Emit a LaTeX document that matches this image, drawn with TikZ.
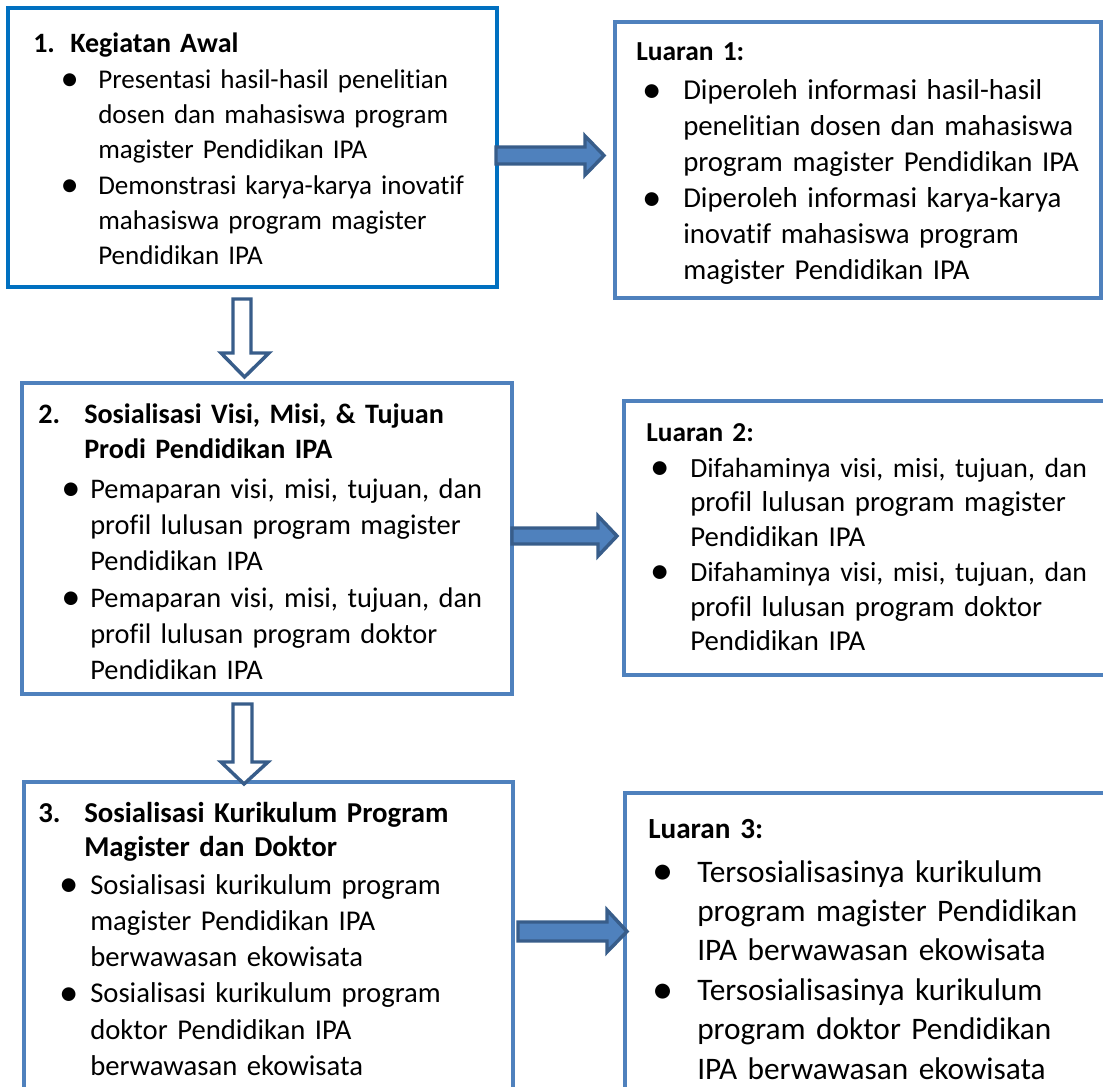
\documentclass[tikz,border=0pt]{standalone}
\usepackage{fontspec}
\setmainfont{Carlito}[Ligatures={NoCommon}]
\usetikzlibrary{fit}
\definecolor{boxblue}{RGB}{0,112,192}
\definecolor{lineblue}{RGB}{79,129,189}
\definecolor{arrfill}{RGB}{79,129,189}
\definecolor{arrdark}{RGB}{56,93,138}
\newcommand{\bl}[1]{\makebox[#1][l]{\raisebox{-0.09em}{\scalebox{1.35}{\textbullet}}}}
\begin{document}
\begin{tikzpicture}[x=0.75pt,y=-0.75pt,
  frame/.style={draw=#1, line width=2.4pt, inner sep=0pt, fill=none},
  txt/.style={anchor=base west, inner sep=0pt, text width=470pt, align=left},
  rarrow/.style={fill=arrfill, draw=arrdark, line width=2.6pt, line join=miter},
  darrow/.style={fill=white, draw=arrdark, line width=2.6pt, line join=miter}]
\useasboundingbox (0,0) rectangle (1103,1087);
\clip (0,0) rectangle (1103,1087);
% boxes
\node[frame=boxblue, fit={(8,8) (497,287)}] (b1) {};
\node[frame=lineblue, fit={(615,22) (1101,298)}] (l1) {};
\node[frame=lineblue, fit={(22,383) (512,694)}] (b2) {};
\node[frame=lineblue, fit={(624,401) (1115,675)}] (l2) {};
\node[frame=lineblue, fit={(24,782) (513,1100)}] (b3) {};
\node[frame=lineblue, fit={(625,793) (1115,1100)}] (l3) {};
% box 1 text
\node[txt, font=\fontsize{20.3}{26.5}\selectfont] (t1) at (33,53) {%
{\bfseries\fontsize{21}{26.5}\selectfont\makebox[27.75pt][l]{1.}Kegiatan Awal}\\
\hspace*{20.5pt}\bl{28.25pt}Presentasi hasil-hasil penelitian\\
\hspace*{48.75pt}dosen dan mahasiswa program\\
\hspace*{48.75pt}magister Pendidikan IPA\\
\hspace*{20.5pt}\bl{28.25pt}Demonstrasi karya-karya inovatif\\
\hspace*{48.75pt}mahasiswa program magister\\
\hspace*{48.75pt}Pendidikan IPA};
% luaran 1
\node[txt, font=\bfseries\fontsize{20.6}{24}\selectfont] (h1) at (636,61) {Luaran 1:};
\node[txt, font=\fontsize{21.6}{27}\selectfont] (u1) at (642,100) {%
\bl{30.75pt}Diperoleh informasi hasil-hasil\\
\hspace*{30.75pt}penelitian dosen dan mahasiswa\\
\hspace*{30.75pt}program magister Pendidikan IPA\\
\bl{30.75pt}Diperoleh informasi karya-karya\\
\hspace*{30.75pt}inovatif mahasiswa program\\
\hspace*{30.75pt}magister Pendidikan IPA};
% box 2
\node[txt, font=\bfseries\fontsize{21.1}{26.25}\selectfont] (h2) at (38,423) {%
\makebox[34.5pt][l]{2.}Sosialisasi Visi, Misi, \& Tujuan\\
\hspace*{34.5pt}Prodi Pendidikan IPA};
\node[txt, font=\fontsize{21.3}{27.3}\selectfont] (t2) at (61,498) {%
\bl{21.75pt}Pemaparan visi, misi, tujuan, dan\\
\hspace*{21.75pt}profil lulusan program magister\\
\hspace*{21.75pt}Pendidikan IPA\\
\bl{21.75pt}Pemaparan visi, misi, tujuan, dan\\
\hspace*{21.75pt}profil lulusan program doktor\\
\hspace*{21.75pt}Pendidikan IPA};
% luaran 2
\node[txt, font=\bfseries\fontsize{20.5}{24}\selectfont] (h2r) at (646,441) {Luaran 2:};
\node[txt, font=\fontsize{21.6}{26.1}\selectfont] (u2) at (650,477) {%
\bl{30pt}{\fontsize{20.8}{26}\selectfont Difahaminya visi, misi, tujuan, dan}\\
\hspace*{30pt}profil lulusan program magister\\
\hspace*{30pt}Pendidikan IPA\\
\bl{30pt}{\fontsize{20.8}{26}\selectfont Difahaminya visi, misi, tujuan, dan}\\
\hspace*{30pt}profil lulusan program doktor\\
\hspace*{30pt}Pendidikan IPA};
% box 3
\node[txt, font=\bfseries\fontsize{21.6}{25.5}\selectfont] (h3) at (38,822) {%
\makebox[34.5pt][l]{3.}Sosialisasi Kurikulum Program\\
\hspace*{34.5pt}Magister dan Doktor};
\node[txt, font=\fontsize{21.5}{27.2}\selectfont] (t3) at (59,894) {%
\bl{23.25pt}Sosialisasi kurikulum program\\
\hspace*{23.25pt}magister Pendidikan IPA\\
\hspace*{23.25pt}berwawasan ekowisata\\
\bl{23.25pt}Sosialisasi kurikulum program\\
\hspace*{23.25pt}doktor Pendidikan IPA\\
\hspace*{23.25pt}berwawasan ekowisata};
% luaran 3
\node[txt, font=\bfseries\fontsize{21.9}{24}\selectfont] (h3r) at (648,838) {Luaran 3:};
\node[txt, font=\fontsize{23.5}{29.6}\selectfont] (u3) at (652,882) {%
\bl{33.75pt}Tersosialisasinya kurikulum\\
\hspace*{33.75pt}program magister Pendidikan\\
\hspace*{33.75pt}IPA berwawasan ekowisata\\
\bl{33.75pt}Tersosialisasinya kurikulum\\
\hspace*{33.75pt}program doktor Pendidikan\\
\hspace*{33.75pt}IPA berwawasan ekowisata};
% right block arrows
\draw[rarrow] (496,147) -- (585,147) -- (585,136) -- (604,155.5) -- (585,175) -- (585,164) -- (496,164) -- cycle;
\draw[rarrow] (512,528) -- (598,528) -- (598,516) -- (617,536) -- (598,556) -- (598,544) -- (512,544) -- cycle;
\draw[rarrow] (518,922) -- (607,922) -- (607,910) -- (627,931.5) -- (607,952) -- (607,941) -- (518,941) -- cycle;
% down block arrows
\draw[darrow] (233,299) -- (251,299) -- (251,353) -- (269,353) -- (244.5,377) -- (221,353) -- (233,353) -- cycle;
\draw[darrow] (233,704) -- (252,704) -- (252,762) -- (268,762) -- (244,784) -- (221,762) -- (233,762) -- cycle;
\end{tikzpicture}
\end{document}
